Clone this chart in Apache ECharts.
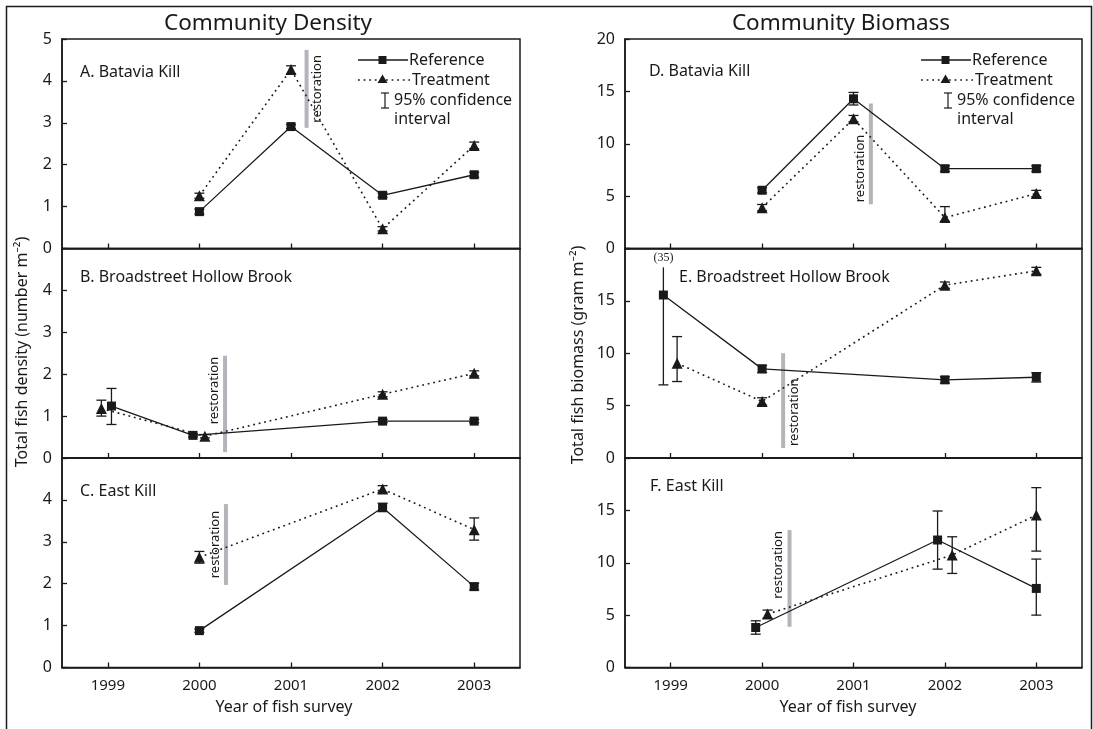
<!DOCTYPE html>
<html>
<head>
<meta charset="utf-8">
<title>Community Density and Biomass</title>
<script src="https://cdn.jsdelivr.net/npm/echarts@6/dist/echarts.min.js"></script>
<style>
  html, body { margin: 0; padding: 0; background: #fff; }
  #chart { width: 1093px; height: 729px; }
</style>
</head>
<body>
<div id="chart"></div>
<script>
// Survey years (x categories)
const years = [1999, 2000, 2001, 2002, 2003];

// ---- Community density (number m-2) ----
const bataviaDensityRef      = [null, 0.88, 2.91, 1.27, 1.76];
const bataviaDensityRefCI    = [null, [0.82, 0.94], [2.86, 2.96], [1.22, 1.32], [1.70, 1.82]];
const bataviaDensityTreat    = [null, 1.26, 4.27, 0.47, 2.46];
const bataviaDensityTreatCI  = [null, [1.20, 1.32], [4.17, 4.36], [0.42, 0.52], [2.38, 2.54]];

const broadstreetDensityRef     = [1.24, 0.54, null, 0.88, 0.88];
const broadstreetDensityRefCI   = [[0.80, 1.66], [0.50, 0.58], null, [0.84, 0.92], [0.84, 0.92]];
const broadstreetDensityTreat   = [1.18, 0.52, null, 1.52, 2.02];
const broadstreetDensityTreatCI = [[1.00, 1.38], [0.48, 0.56], null, [1.46, 1.58], [1.96, 2.08]];

const eastKillDensityRef     = [null, 0.88, null, 3.82, 1.93];
const eastKillDensityRefCI   = [null, [0.84, 0.92], null, [3.72, 3.92], [1.85, 2.01]];
const eastKillDensityTreat   = [null, 2.63, null, 4.26, 3.29];
const eastKillDensityTreatCI = [null, [2.49, 2.77], null, [4.18, 4.34], [3.04, 3.57]];

// ---- Community biomass (gram m-2) ----
const bataviaBiomassRef      = [null, 5.56, 14.29, 7.62, 7.62];
const bataviaBiomassRefCI    = [null, [5.30, 5.80], [13.70, 14.90], [7.35, 7.90], [7.35, 7.90]];
const bataviaBiomassTreat    = [null, 3.90, 12.38, 2.95, 5.24];
const bataviaBiomassTreatCI  = [null, [3.60, 4.20], [12.10, 12.70], [2.60, 4.00], [4.95, 5.55]];

const broadstreetBiomassRef     = [15.56, 8.51, null, 7.46, 7.71];
const broadstreetBiomassRefCI   = [[6.98, 35], [8.15, 8.85], null, [7.15, 7.75], [7.25, 8.15]];
const broadstreetBiomassTreat   = [9.05, 5.40, null, 16.50, 17.87];
const broadstreetBiomassTreatCI = [[7.30, 11.59], [5.05, 5.75], null, [16.20, 16.80], [17.55, 18.20]];

const eastKillBiomassRef     = [null, 3.82, null, 12.17, 7.55];
const eastKillBiomassRefCI   = [null, [3.18, 4.46], null, [9.39, 14.94], [5.00, 10.35]];
const eastKillBiomassTreat   = [null, 5.10, null, 10.73, 14.55];
const eastKillBiomassTreatCI = [null, [4.70, 5.48], null, [8.98, 12.48], [11.11, 17.17]];

// Restoration timing (year) and the span of the marker bar on each panel
const restorationDensityYear = [2001.17, 2000.28, 2000.29];
const restorationDensitySpan = [[2.88, 4.74], [0.14, 2.44], [1.97, 3.90]];
const restorationBiomassYear = [2001.19, 2000.23, 2000.30];
const restorationBiomassSpan = [[4.22, 13.84], [0.95, 10.00], [3.89, 13.12]];

// ---- layout ----
const FONT = '"Noto Sans", "Open Sans", sans-serif';
const INK = '#1a1a1a';
const colLeft = [62, 625];
const colWidth = [458, 457];
const rowTop = [39, 248.5, 458];
const rowHeight = 209.5;

const panels = [
  { col: 0, row: 0, label: 'A. Batavia Kill', labelXY: [80, 72],
    ref: bataviaDensityRef, refCI: bataviaDensityRefCI, treat: bataviaDensityTreat, treatCI: bataviaDensityTreatCI,
    restYear: restorationDensityYear[0], restSpan: restorationDensitySpan[0], textSide: 1, textAnchor: 'middle' },
  { col: 0, row: 1, label: 'B. Broadstreet Hollow Brook', labelXY: [80, 277],
    ref: broadstreetDensityRef, refCI: broadstreetDensityRefCI, treat: broadstreetDensityTreat, treatCI: broadstreetDensityTreatCI,
    refDodge: [0.04, -0.07, 0, 0, 0], treatDodge: [-0.07, 0.06, 0, 0, 0],
    restYear: restorationDensityYear[1], restSpan: restorationDensitySpan[1], textSide: -1, textAnchor: 'top' },
  { col: 0, row: 2, label: 'C. East Kill', labelXY: [80, 491],
    ref: eastKillDensityRef, refCI: eastKillDensityRefCI, treat: eastKillDensityTreat, treatCI: eastKillDensityTreatCI,
    restYear: restorationDensityYear[2], restSpan: restorationDensitySpan[2], textSide: -1, textAnchor: 'middle' },
  { col: 1, row: 0, label: 'D. Batavia Kill', labelXY: [649, 71],
    ref: bataviaBiomassRef, refCI: bataviaBiomassRefCI, treat: bataviaBiomassTreat, treatCI: bataviaBiomassTreatCI,
    restYear: restorationBiomassYear[0], restSpan: restorationBiomassSpan[0], textSide: -1, textAnchor: 'bottom' },
  { col: 1, row: 1, label: 'E. Broadstreet Hollow Brook', labelXY: [679, 277],
    ref: broadstreetBiomassRef, refCI: broadstreetBiomassRefCI, treat: broadstreetBiomassTreat, treatCI: broadstreetBiomassTreatCI,
    refDodge: [-0.08, 0, 0, 0, 0], treatDodge: [0.07, 0, 0, 0, 0], ciClip: 18.2,
    restYear: restorationBiomassYear[1], restSpan: restorationBiomassSpan[1], textSide: 1, textAnchor: 'bottom' },
  { col: 1, row: 2, label: 'F. East Kill', labelXY: [650, 486],
    ref: eastKillBiomassRef, refCI: eastKillBiomassRefCI, treat: eastKillBiomassTreat, treatCI: eastKillBiomassTreatCI,
    refDodge: [0, -0.07, 0, -0.08, 0], treatDodge: [0, 0.06, 0, 0.08, 0],
    restYear: restorationBiomassYear[2], restSpan: restorationBiomassSpan[2], textSide: -1, textAnchor: 'top' }
];

const grid = [], xAxis = [], yAxis = [], series = [];

panels.forEach((p, i) => {
  const isBiomass = p.col === 1;
  const yMax = isBiomass ? 20 : 5;
  const yStep = isBiomass ? 5 : 1;
  const bottomRow = p.row === 2;
  const clip = p.ciClip != null ? p.ciClip : yMax;
  const refDodge = p.refDodge || [0, 0, 0, 0, 0];
  const treatDodge = p.treatDodge || [0, 0, 0, 0, 0];

  grid.push({
    left: colLeft[p.col], top: rowTop[p.row], width: colWidth[p.col], height: rowHeight,
    show: true, borderColor: INK, borderWidth: 1.5, containLabel: false
  });
  xAxis.push({
    gridIndex: i, type: 'value', min: 1998.5, max: 2003.5,
    axisLine: { show: true, lineStyle: { color: INK, width: 1.5 } },
    axisTick: { show: true, inside: true, length: 5, customValues: years, lineStyle: { color: INK, width: 1.3 } },
    axisLabel: { show: bottomRow, customValues: years, margin: 11, color: INK, fontFamily: FONT, fontSize: 15,
                 formatter: v => String(v) },
    splitLine: { show: false }
  });
  yAxis.push({
    gridIndex: i, type: 'value', min: 0, max: yMax, interval: yStep,
    axisLine: { show: true, lineStyle: { color: INK, width: 1.5 } },
    axisTick: { show: true, inside: true, length: 5, lineStyle: { color: INK, width: 1.3 } },
    axisLabel: { color: INK, fontFamily: FONT, fontSize: 16, margin: 10, showMaxLabel: p.row === 0 },
    splitLine: { show: false }
  });

  const pts = (vals, dodge) => years.map((y, k) => vals[k] == null ? null : [y + dodge[k], vals[k]]).filter(Boolean);
  const cis = (ci, dodge) => years.map((y, k) => ci[k] == null ? null : [y + dodge[k], ci[k][0], ci[k][1]]).filter(Boolean);

  // restoration marker bar with its vertical caption
  series.push({
    type: 'custom', xAxisIndex: i, yAxisIndex: i, z: 1, silent: true,
    data: [[p.restYear, p.restSpan[0], p.restSpan[1]]],
    renderItem: (params, api) => {
      const top = api.coord([api.value(0), api.value(2)]);
      const bot = api.coord([api.value(0), api.value(1)]);
      const tx = top[0] + p.textSide * 11;
      let ty, align;
      if (p.textAnchor === 'top') { ty = top[1] + 1; align = 'right'; }
      else if (p.textAnchor === 'bottom') { ty = bot[1] - 2; align = 'left'; }
      else { ty = (top[1] + bot[1]) / 2; align = 'center'; }
      return {
        type: 'group',
        children: [
          { type: 'line', shape: { x1: top[0], y1: top[1], x2: bot[0], y2: bot[1] },
            style: { stroke: '#b4b4ba', lineWidth: 4 } },
          { type: 'text', x: tx, y: ty, rotation: Math.PI / 2,
            style: { text: 'restoration', fill: INK, font: '13px ' + FONT, align: align, verticalAlign: 'middle' } }
        ]
      };
    }
  });

  series.push({
    name: 'Reference', type: 'line', xAxisIndex: i, yAxisIndex: i, z: 3,
    data: pts(p.ref, refDodge),
    symbol: 'rect', symbolSize: 9, showAllSymbol: true,
    itemStyle: { color: INK },
    lineStyle: { color: INK, width: 1.3, type: 'solid' },
    animation: false
  });
  series.push({
    name: 'Treatment', type: 'line', xAxisIndex: i, yAxisIndex: i, z: 3,
    data: pts(p.treat, treatDodge),
    symbol: 'triangle', symbolSize: 11, showAllSymbol: true,
    itemStyle: { color: INK },
    lineStyle: { color: INK, width: 1.6, type: [1.8, 3.8] },
    animation: false
  });

  // 95% confidence intervals
  const ciRender = (params, api) => {
    const x = api.value(0), lo = api.value(1), hi = api.value(2);
    const pLo = api.coord([x, lo]);
    const pHi = api.coord([x, Math.min(hi, clip)]);
    const w = 5;
    const children = [
      { type: 'line', shape: { x1: pLo[0], y1: pLo[1], x2: pHi[0], y2: pHi[1] }, style: { stroke: INK, lineWidth: 1.3 } },
      { type: 'line', shape: { x1: pLo[0] - w, y1: pLo[1], x2: pLo[0] + w, y2: pLo[1] }, style: { stroke: INK, lineWidth: 1.3 } }
    ];
    if (hi <= clip) {
      children.push({ type: 'line', shape: { x1: pHi[0] - w, y1: pHi[1], x2: pHi[0] + w, y2: pHi[1] }, style: { stroke: INK, lineWidth: 1.3 } });
    } else {
      children.push({ type: 'text', x: pHi[0], y: pHi[1] - 10,
        style: { text: '(' + hi + ')', fill: INK, font: '12px "Liberation Serif", serif', align: 'center', verticalAlign: 'middle' } });
    }
    return { type: 'group', children };
  };
  series.push({ type: 'custom', xAxisIndex: i, yAxisIndex: i, z: 4, silent: true, data: cis(p.refCI, refDodge), renderItem: ciRender });
  series.push({ type: 'custom', xAxisIndex: i, yAxisIndex: i, z: 4, silent: true, data: cis(p.treatCI, treatDodge), renderItem: ciRender });
});

// ---- text and legend drawn on the canvas ----
const txt = (x, y, text, size, extra) => Object.assign({
  type: 'text', x, y, silent: true,
  style: Object.assign({ text, fill: INK, font: size + 'px ' + FONT, align: 'left', verticalAlign: 'middle' }, extra || {})
});

const graphic = [
  { type: 'rect', silent: true, shape: { x: 6.5, y: 6.5, width: 1085, height: 740 },
    style: { fill: 'none', stroke: INK, lineWidth: 1.5 } },
  txt(268, 24, 'Community Density', 22.5, { align: 'center' }),
  txt(841, 24, 'Community Biomass', 22.5, { align: 'center' }),
  Object.assign(txt(22, 352, 'Total fish density (number m⁻²)', 16, { align: 'center' }), { rotation: Math.PI / 2 }),
  Object.assign(txt(578, 355, 'Total fish biomass (gram m⁻²)', 16, { align: 'center' }), { rotation: Math.PI / 2 }),
  txt(284, 707, 'Year of fish survey', 16, { align: 'center' }),
  txt(848, 707, 'Year of fish survey', 16, { align: 'center' })
];

panels.forEach(p => graphic.push(txt(p.labelXY[0], p.labelXY[1], p.label, 16)));

// legend in the top panel of each column
[0, 1].forEach(c => {
  const ox = colLeft[c] + 296;
  graphic.push(
    { type: 'line', silent: true, shape: { x1: ox, y1: 60, x2: ox + 50, y2: 60 }, style: { stroke: INK, lineWidth: 1.3 } },
    { type: 'rect', silent: true, shape: { x: ox + 20.5, y: 56, width: 8, height: 8 }, style: { fill: INK } },
    txt(ox + 51, 60, 'Reference', 16),
    { type: 'line', silent: true, shape: { x1: ox, y1: 80, x2: ox + 52, y2: 80 }, style: { stroke: INK, lineWidth: 1.6, lineDash: [1.8, 3.8] } },
    { type: 'polygon', silent: true, shape: { points: [[ox + 24.5, 74.5], [ox + 29.5, 83], [ox + 19.5, 83]] }, style: { fill: INK } },
    txt(ox + 54, 80, 'Treatment', 16),
    { type: 'line', silent: true, shape: { x1: ox + 27, y1: 93, x2: ox + 27, y2: 108 }, style: { stroke: INK, lineWidth: 1.2 } },
    { type: 'line', silent: true, shape: { x1: ox + 23, y1: 93, x2: ox + 31, y2: 93 }, style: { stroke: INK, lineWidth: 1.2 } },
    { type: 'line', silent: true, shape: { x1: ox + 23, y1: 108, x2: ox + 31, y2: 108 }, style: { stroke: INK, lineWidth: 1.2 } },
    txt(ox + 36, 100, '95% confidence', 16),
    txt(ox + 36, 119, 'interval', 16)
  );
});

const chart = echarts.init(document.getElementById('chart'), null, { renderer: 'canvas' });
chart.setOption({
  animation: false,
  backgroundColor: '#fff',
  grid, xAxis, yAxis, series, graphic
});
</script>
</body>
</html>
